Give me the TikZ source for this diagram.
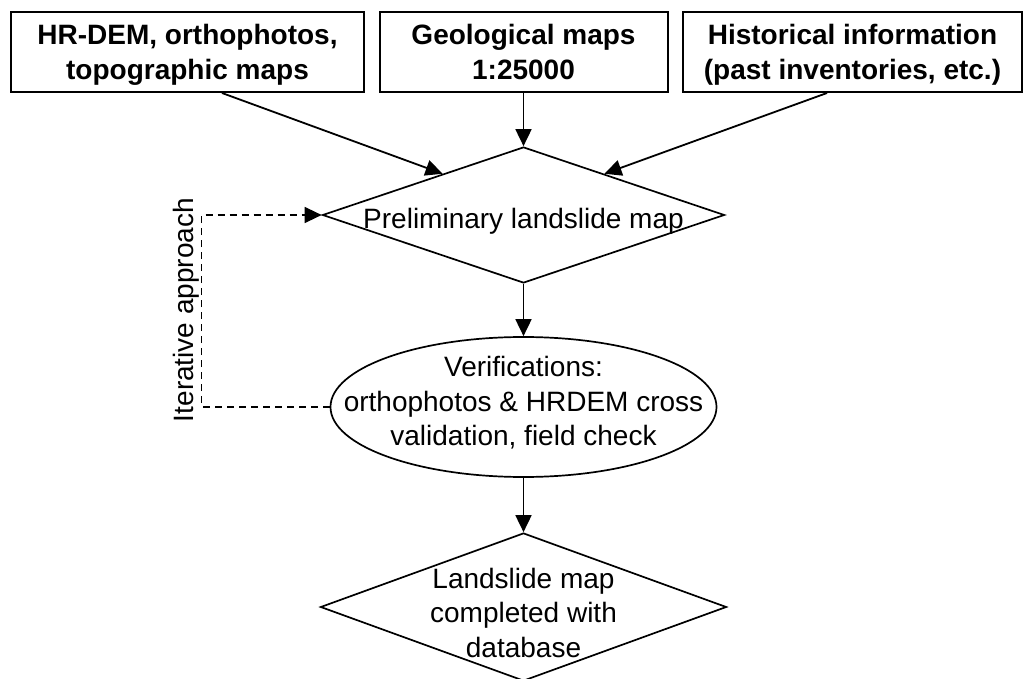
\documentclass[tikz,border=0pt]{standalone}
\usepackage{fontspec}
\setmainfont{Liberation Sans}
\usetikzlibrary{arrows.meta,shapes.geometric}
\newcommand{\topstrut}{\rule{0pt}{27pt}}
\newcommand{\botstrut}{\rule[-7pt]{0pt}{7pt}}
\begin{document}
\begin{tikzpicture}[x=1pt,y=-1pt,
  every node/.style={font=\fontsize{28}{34.5}\selectfont, align=center},
  srcbox/.style={draw, line width=2pt, inner sep=0pt, minimum height=80pt, font=\fontsize{28}{34.5}\selectfont\bfseries},
  decision/.style={draw, diamond, line width=1.7pt, inner sep=0pt},
  verif/.style={draw, ellipse, line width=1.7pt, inner sep=0pt},
  label/.style={inner sep=0pt},
  flow/.style={line width=1.8pt, -{Triangle[length=17pt,width=16pt]}},
  loopline/.style={line width=1.4pt, dash pattern=on 7pt off 5pt, -{Triangle[length=17pt,width=16pt]}}
]
\useasboundingbox (0,0) rectangle (1025,679);
\fill[white] (0,0) rectangle (1025,679);

\node[srcbox, minimum width=353pt] (b1) at (187.5,52) {\topstrut HR-DEM, orthophotos,\\topographic maps\botstrut};
\node[srcbox, minimum width=288pt] (b2) at (523.5,52) {\topstrut Geological maps\\1:25000\botstrut};
\node[srcbox, minimum width=339pt] (b3) at (852.5,52) {\topstrut Historical information\\(past inventories, etc.)\botstrut};

\node[decision, minimum width=402pt, minimum height=136pt] (d1) at (523.5,215) {};
\node[label] (t1) at (523.5,221) {Preliminary landslide map};

\node[verif, minimum width=386pt, minimum height=140pt] (el) at (523.5,407) {};
\node[label] (t2) at (523.5,403) {Verifications:\\orthophotos \& HRDEM cross\\validation, field check};

\node[decision, minimum width=406pt, minimum height=148pt] (d2) at (523.5,607) {};
\node[label] (t3) at (523.5,612.5) {Landslide map\\completed with\\database};

\node[label, rotate=90] (lab) at (186,310) {Iterative approach};

\draw[flow] ([xshift=34.5pt]b1.south) -- (d1.153);
\draw[flow] (b2.south) -- (d1.north);
\draw[flow] ([xshift=-25.5pt]b3.south) -- (d1.27);
\draw[flow] (d1.south) -- (el.north);
\draw[flow] (el.south) -- (d2.north);
\draw[loopline] (el.west) -- ++(-128,0) |- (d1.west);
\end{tikzpicture}
\end{document}
